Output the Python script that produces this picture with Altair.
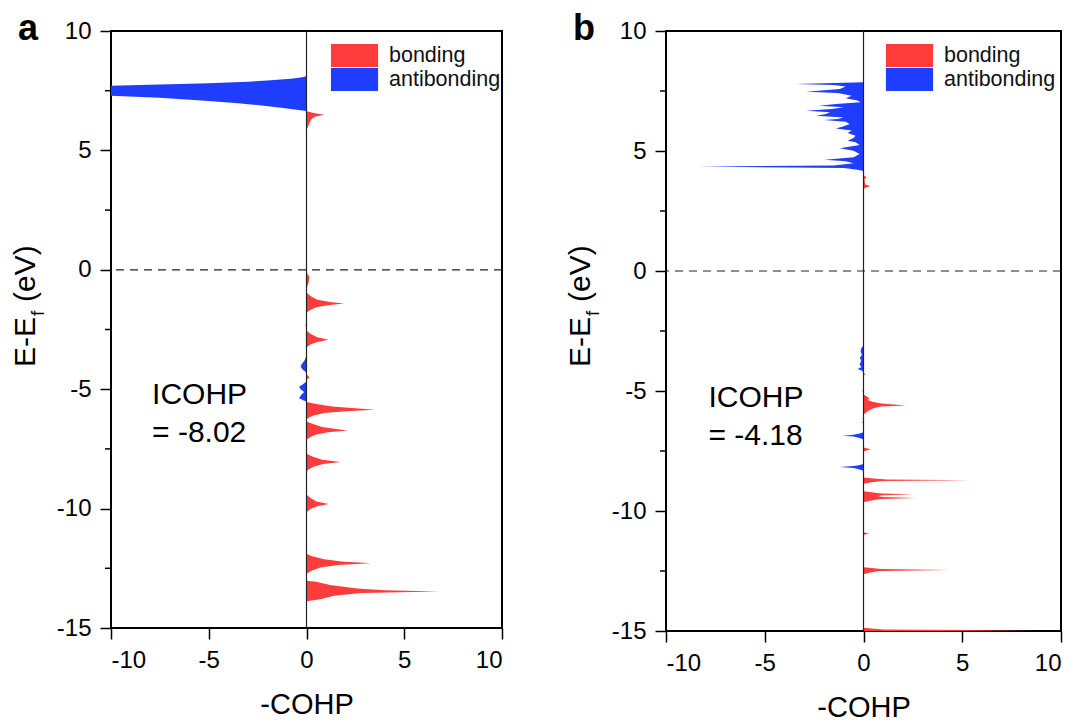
import altair as alt
import pandas as pd

FONT = "Liberation Sans"

# ---------------- data ----------------
# panel a : (E - Ef [eV], -COHP)
a_points = [
    (8.10, 0), (8.05, -0.3), (8.00, -0.8), (7.93, -2), (7.88, -3), (7.81, -5), (7.75, -8),
    (7.71, -10), (7.60, -14), (7.50, -16), (7.40, -14), (7.29, -10), (7.20, -7.5), (7.07, -5),
    (6.97, -3.5), (6.90, -2.5), (6.78, -1.2), (6.68, -0.3), (6.65, 0),
    (6.62, 0.1), (6.55, 0.5), (6.49, 0.91), (6.42, 0.45), (6.30, 0.25), (6.15, 0.15), (6.00, 0.08), (5.86, 0),
    (0.0, 0), (-0.1, 0), (-0.3, 0.15), (-0.5, 0.12), (-0.8, 0),
    (-0.95, 0), (-1.10, 0.2), (-1.25, 0.55), (-1.35, 1.2), (-1.41, 1.92), (-1.48, 1.1), (-1.57, 0.5), (-1.70, 0.15), (-1.80, 0),
    (-2.20, 0), (-2.30, -0.05), (-2.45, 0),
    (-2.55, 0), (-2.68, 0.2), (-2.82, 0.55), (-2.93, 1.12), (-3.02, 0.55), (-3.13, 0.2), (-3.25, 0),
    (-3.60, 0), (-3.80, -0.1), (-3.95, -0.25), (-4.06, -0.3), (-4.18, -0.2), (-4.30, 0),
    (-4.38, 0), (-4.50, 0.16), (-4.60, 0),
    (-4.68, 0), (-4.80, -0.2), (-4.90, -0.38), (-5.00, -0.3), (-5.12, -0.12), (-5.22, -0.25), (-5.37, -0.38), (-5.47, -0.15), (-5.52, 0),
    (-5.54, 0), (-5.62, 0.5), (-5.72, 1.3), (-5.80, 2.5), (-5.86, 3.5), (-5.92, 2.0), (-6.00, 0.9), (-6.10, 0.35), (-6.20, 0.1), (-6.28, 0),
    (-6.35, 0), (-6.45, 0.3), (-6.58, 0.8), (-6.67, 1.5), (-6.73, 2.1), (-6.80, 1.1), (-6.90, 0.5), (-7.00, 0.2), (-7.12, 0),
    (-7.70, 0), (-7.82, 0.3), (-7.95, 0.8), (-8.05, 1.75), (-8.13, 0.85), (-8.25, 0.35), (-8.35, 0.12), (-8.45, 0),
    (-9.42, 0), (-9.55, 0.2), (-9.70, 0.5), (-9.81, 1.14), (-9.90, 0.55), (-10.02, 0.2), (-10.15, 0),
    (-11.90, 0), (-12.00, 0.3), (-12.12, 0.9), (-12.22, 1.8), (-12.29, 3.3), (-12.36, 1.6), (-12.47, 0.7), (-12.60, 0.25), (-12.73, 0),
    (-13.02, 0), (-13.06, 0.5), (-13.20, 1.2), (-13.35, 2.6), (-13.42, 4.0), (-13.47, 6.8), (-13.53, 2.8), (-13.65, 1.4), (-13.80, 0.7), (-13.88, 0),
]

# panel b : (E - Ef [eV], -COHP)
b_points = [
    (7.86, 0), (7.79, -3.46), (7.75, -1.5), (7.69, -0.9), (7.58, -1.2), (7.47, -2.9), (7.42, -1.3),
    (7.30, -0.6), (7.20, -0.9), (7.10, -0.3), (7.03, -0.15), (6.96, -1.4), (6.89, -2.25), (6.82, -1.0),
    (6.75, -1.6), (6.68, -2.9), (6.61, -1.7), (6.54, -1.9), (6.47, -2.4), (6.40, -1.0), (6.33, -1.3),
    (6.29, -2.0), (6.22, -0.9), (6.13, -0.7), (6.03, -1.0), (5.94, -1.4), (5.85, -0.6), (5.75, -0.8),
    (5.64, -0.4), (5.54, -0.5), (5.43, -0.8), (5.36, -0.4), (5.25, -0.2), (5.11, -1.2), (5.01, -0.5),
    (4.88, -0.2), (4.74, -0.5), (4.64, -1.97), (4.57, -0.9), (4.49, -0.5), (4.40, -1.5), (4.35, -8.35),
    (4.29, -1.0), (4.22, -0.3), (4.17, 0),
    (4.00, 0), (3.90, 0.15), (3.83, 0.05), (3.60, 0.08), (3.54, 0.35), (3.45, 0.05), (3.35, 0),
    (-3.10, 0), (-3.20, -0.1), (-3.35, -0.15), (-3.50, -0.08), (-3.60, -0.18), (-3.75, -0.12), (-3.90, -0.2),
    (-4.00, -0.1), (-4.08, -0.3), (-4.15, -0.1), (-4.20, 0),
    (-4.25, 0), (-4.30, 0.1), (-4.35, 0),
    (-4.95, 0), (-5.00, -0.06), (-5.05, 0),
    (-5.15, 0), (-5.22, 0.15), (-5.30, 0.3), (-5.38, 0.2), (-5.45, 0.45), (-5.52, 0.9), (-5.60, 2.15),
    (-5.65, 0.9), (-5.72, 0.5), (-5.82, 0.25), (-5.92, 0.1), (-5.98, 0),
    (-6.25, 0), (-6.30, -0.07), (-6.35, 0),
    (-6.72, 0), (-6.78, -0.25), (-6.83, -0.6), (-6.86, -1.08), (-6.90, -0.5), (-6.96, -0.2), (-7.02, 0),
    (-7.35, 0), (-7.40, 0.2), (-7.43, 0.39), (-7.47, 0.18), (-7.52, 0),
    (-8.04, 0), (-8.10, -0.3), (-8.14, -0.65), (-8.17, -1.2), (-8.21, -0.5), (-8.27, -0.2), (-8.32, 0),
    (-8.60, 0), (-8.65, 0.5), (-8.69, 1.2), (-8.72, 5.37), (-8.75, 1.0), (-8.80, 0.4), (-8.86, 0),
    (-9.18, 0), (-9.22, 0.4), (-9.27, 0.9), (-9.30, 2.5), (-9.34, 1.0), (-9.38, 0.7), (-9.42, 1.0),
    (-9.46, 2.67), (-9.50, 0.9), (-9.56, 0.4), (-9.64, 0),
    (-10.88, 0), (-10.92, 0.15), (-10.94, 0.3), (-10.97, 0.12), (-11.00, 0),
    (-12.34, 0), (-12.38, 0.4), (-12.42, 0.9), (-12.46, 4.34), (-12.50, 0.8), (-12.56, 0.35), (-12.64, 0),
    (-14.86, 0), (-14.90, 0.4), (-14.94, 1.0), (-14.97, 8.85), (-15.02, 0.5), (-15.10, 0),
]

E_a = [p[0] for p in a_points]
cohp_a = [p[1] for p in a_points]
E_b = [p[0] for p in b_points]
cohp_b = [p[1] for p in b_points]

series_names = ["bonding", "antibonding"]
series_colors = ["#FF3B3B", "#1F3DFF"]
y_major = [-15, -10, -5, 0, 5, 10]
y_minor = [-12.5, -7.5, -2.5, 2.5, 7.5]
x_major = [-10, -5, 0, 5, 10]
panel_letters = ["a", "b"]
icohp_text = ["ICOHP\n= -8.02", "ICOHP\n= -4.18"]
icohp_xy = [(-7.9, -5.6), (-7.85, -5.67)]


def long_table(E, v):
    rows = []
    for e, c in zip(E, v):
        rows.append({"E": e, "v": max(c, 0.0), "series": "bonding"})
        rows.append({"E": e, "v": min(c, 0.0), "series": "antibonding"})
    return pd.DataFrame(rows)


def panel(E, v, letter, icohp, ixy, w, h):
    df = long_table(E, v)
    yscale = alt.Scale(domain=[-15, 10], nice=False, zero=False)
    xscale = alt.Scale(domain=[-10, 10], nice=False, zero=False)

    yaxis = alt.Axis(values=y_major, title=None, grid=False, domain=False,
                     tickSize=11, tickWidth=1.5, tickColor="black",
                     labelExpr="toString(datum.value)",
                     labelFontSize=24, labelPadding=9, labelColor="black", labelFont=FONT)
    xaxis = alt.Axis(values=x_major, title="-COHP", grid=False, domain=False,
                     tickSize=11, tickWidth=1.5, tickColor="black",
                     labelExpr="toString(datum.value)",
                     labelFontSize=24, labelPadding=9, labelColor="black", labelFont=FONT,
                     titleFontSize=29, titleFont=FONT, titleFontWeight="normal",
                     titleColor="black", titlePadding=18)

    area = alt.Chart(df).mark_area(orient="horizontal", clip=True, opacity=1, interpolate="linear").encode(
        y=alt.Y("E:Q", scale=yscale, axis=yaxis),
        x=alt.X("v:Q", scale=xscale, stack=None, axis=xaxis),
        color=alt.Color("series:N", scale=alt.Scale(domain=series_names, range=series_colors),
                        legend=alt.Legend(title=None, orient="none", legendX=232, legendY=13,
                                          symbolType="M-2.05,-1H2.05V1H-2.05Z", symbolSize=529,
                                          symbolStrokeWidth=0, symbolOpacity=1,
                                          labelFontSize=21.5, labelFont=FONT, labelColor="#111",
                                          labelOffset=23, rowPadding=1, padding=0)),
    )

    vline = alt.Chart(pd.DataFrame({"v": [0]})).mark_rule(color="#222", strokeWidth=1.2).encode(
        x=alt.X("v:Q", scale=xscale, axis=xaxis))
    hline = alt.Chart(pd.DataFrame({"E": [0]})).mark_rule(color="#222", strokeWidth=1.2, strokeDash=[8, 6]).encode(
        y=alt.Y("E:Q", scale=yscale, axis=yaxis))

    minor = alt.Chart(pd.DataFrame({"E": y_minor})).mark_rule(color="black", strokeWidth=1.5).encode(
        y=alt.Y("E:Q", scale=yscale, axis=yaxis), x=alt.value(-6), x2=alt.value(0))

    ann = alt.Chart(pd.DataFrame({"t": [icohp], "v": [ixy[0]], "E": [ixy[1]]})).mark_text(
        align="left", baseline="alphabetic", fontSize=30, font=FONT, color="black",
        lineBreak="\n", lineHeight=38).encode(
        text="t:N",
        x=alt.X("v:Q", scale=xscale, axis=xaxis),
        y=alt.Y("E:Q", scale=yscale, axis=yaxis))

    lab = alt.Chart(pd.DataFrame({"t": [letter]})).mark_text(
        align="left", baseline="alphabetic", fontSize=36, fontWeight="bold", font=FONT, color="black").encode(
        text="t:N", x=alt.value(-93), y=alt.value(9))

    t1 = alt.Chart(pd.DataFrame({"t": ["E-E"]})).mark_text(
        angle=270, align="left", baseline="alphabetic", fontSize=30, font=FONT, color="black").encode(
        text="t:N", x=alt.value(-76), y=alt.value(336))
    t2 = alt.Chart(pd.DataFrame({"t": ["f"]})).mark_text(
        angle=270, align="left", baseline="alphabetic", fontSize=19, font=FONT, color="black").encode(
        text="t:N", x=alt.value(-67), y=alt.value(285))
    t3 = alt.Chart(pd.DataFrame({"t": ["(eV)"]})).mark_text(
        angle=270, align="left", baseline="alphabetic", fontSize=30, font=FONT, color="black").encode(
        text="t:N", x=alt.value(-76), y=alt.value(271))

    return alt.layer(area, vline, hline, minor, ann, lab, t1, t2, t3).properties(width=w, height=h)


pa = panel(E_a, cohp_a, panel_letters[0], icohp_text[0], icohp_xy[0], 391, 597)
pb = panel(E_b, cohp_b, panel_letters[1], icohp_text[1], icohp_xy[1], 395, 600)

chart = alt.hconcat(pa, pb, spacing=164, bounds="flush").resolve_scale(color="independent").properties(
    padding={"left": 10, "top": 10, "right": 2, "bottom": 2},
    background="white",
).configure_view(stroke="black", strokeWidth=2)

chart.save("out.html", embed_options={"renderer": "svg", "actions": False})
